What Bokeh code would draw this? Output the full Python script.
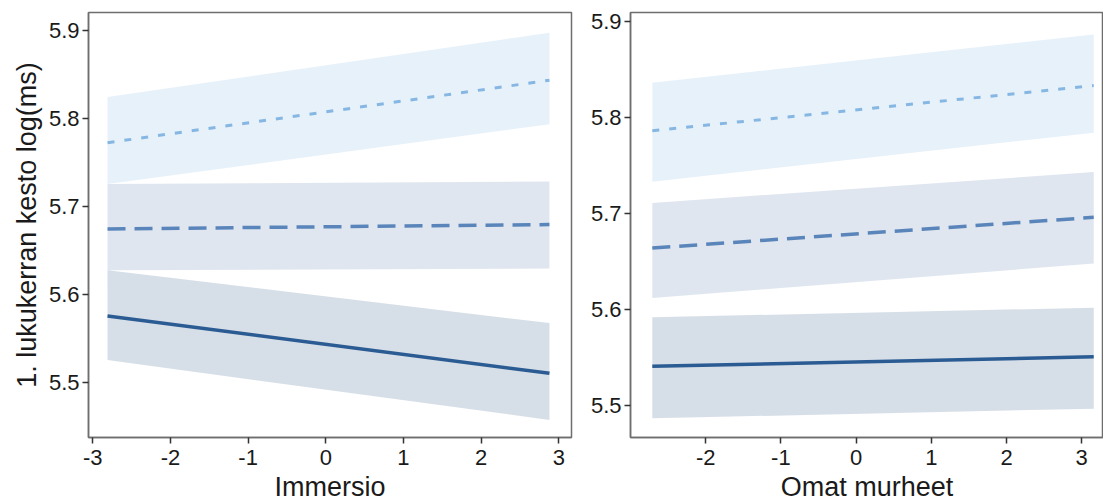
from bokeh.plotting import figure
from bokeh.layouts import row
from bokeh.models import Range1d, FixedTicker, CustomJSTickFormatter
from bokeh.embed import file_html
from bokeh.resources import INLINE

# ---- data ----
imm_x = [-2.81, 2.88]
imm_low_fit = [5.575, 5.510]
imm_low_lo = [5.525, 5.457]
imm_low_hi = [5.627, 5.567]
imm_mid_fit = [5.674, 5.679]
imm_mid_lo = [5.627, 5.629]
imm_mid_hi = [5.725, 5.728]
imm_high_fit = [5.772, 5.843]
imm_high_lo = [5.725, 5.793]
imm_high_hi = [5.824, 5.897]

om_x = [-2.71, 3.16]
om_low_fit = [5.541, 5.551]
om_low_lo = [5.487, 5.497]
om_low_hi = [5.592, 5.602]
om_mid_fit = [5.664, 5.696]
om_mid_lo = [5.612, 5.648]
om_mid_hi = [5.711, 5.743]
om_high_fit = [5.786, 5.833]
om_high_lo = [5.733, 5.784]
om_high_hi = [5.836, 5.886]

x_ticks_left = [-3, -2, -1, 0, 1, 2, 3]
x_ticks_right = [-2, -1, 0, 1, 2, 3]
y_ticks = [5.5, 5.6, 5.7, 5.8, 5.9]

FONT = "Liberation Sans"
FILL_LOW, FILL_MID, FILL_HIGH = "#235082", "#5578aa", "#73aae1"
ALPHA_LOW, ALPHA_MID, ALPHA_HIGH = 0.19, 0.19, 0.17
LINE_LOW, LINE_MID, LINE_HIGH = "#2b5b93", "#5a85bb", "#86b7e3"
FRAME = "#6e6e6e"


def style(p, xlabel, ylabel, xticks):
    p.xgrid.visible = False
    p.ygrid.visible = False
    p.outline_line_color = FRAME
    p.outline_line_width = 1.5
    p.background_fill_color = "white"
    p.border_fill_color = "white"
    for ax in (p.xaxis[0], p.yaxis[0]):
        ax.axis_line_color = FRAME
        ax.axis_line_width = 1.5
        ax.major_tick_line_color = "#333333"
        ax.major_tick_line_width = 1.5
        ax.major_tick_out = 6
        ax.major_tick_in = 0
        ax.minor_tick_line_color = None
        ax.major_label_text_font = FONT
        ax.major_label_text_font_size = "22px"
        ax.major_label_text_color = "#1a1a1a"
        ax.axis_label_text_font = FONT
        ax.axis_label_text_font_style = "normal"
        ax.axis_label_text_color = "#1a1a1a"
        ax.major_label_standoff = 3
    p.xaxis[0].major_label_standoff = 6
    p.xaxis[0].ticker = FixedTicker(ticks=xticks)
    p.yaxis[0].ticker = FixedTicker(ticks=y_ticks)
    p.xaxis[0].formatter = CustomJSTickFormatter(code="return tick.toFixed(0);")
    p.yaxis[0].formatter = CustomJSTickFormatter(code="return tick.toFixed(1);")
    p.xaxis[0].axis_label = xlabel
    p.xaxis[0].axis_label_text_font_size = "27px"
    p.xaxis[0].axis_label_standoff = 4
    if ylabel:
        p.yaxis[0].axis_label = ylabel
        p.yaxis[0].axis_label_text_font_size = "27px"
        p.yaxis[0].axis_label_standoff = 4


def draw(p, x, lows, mids, highs):
    for (fit, lo, hi), fc, fa, lc, dash, lw in (
        (highs, FILL_HIGH, ALPHA_HIGH, LINE_HIGH, "7 10", 3),
        (mids, FILL_MID, ALPHA_MID, LINE_MID, "18 9", 3.5),
        (lows, FILL_LOW, ALPHA_LOW, LINE_LOW, "solid", 3.5),
    ):
        p.varea(x=x, y1=lo, y2=hi, fill_color=fc, fill_alpha=fa)
        p.line(x=x, y=fit, line_color=lc, line_width=lw, line_dash=dash)


p1 = figure(width=575, height=504, output_backend="svg", toolbar_location=None,
            x_range=Range1d(-3.055, 3.164), y_range=Range1d(5.437, 5.920),
            min_border_left=88, min_border_right=4, min_border_top=12, min_border_bottom=63)
draw(p1, imm_x, (imm_low_fit, imm_low_lo, imm_low_hi),
     (imm_mid_fit, imm_mid_lo, imm_mid_hi), (imm_high_fit, imm_high_lo, imm_high_hi))
style(p1, "Immersio", "1. lukukerran kesto log(ms)", x_ticks_left)

p2 = figure(width=528, height=504, output_backend="svg", toolbar_location=None,
            x_range=Range1d(-3.0, 3.29), y_range=Range1d(5.467, 5.909),
            min_border_left=55, min_border_right=0, min_border_top=11, min_border_bottom=63)
draw(p2, om_x, (om_low_fit, om_low_lo, om_low_hi),
     (om_mid_fit, om_mid_lo, om_mid_hi), (om_high_fit, om_high_lo, om_high_hi))
style(p2, "Omat murheet", None, x_ticks_right)

layout = row(p1, p2)
open("out.html", "w").write(file_html(layout, INLINE))
